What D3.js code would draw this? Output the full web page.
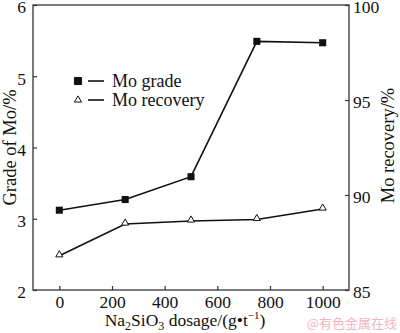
<!DOCTYPE html>
<html>
<head>
<meta charset="utf-8">
<script src="https://cdn.jsdelivr.net/npm/d3@7"></script>
<style>
  body { margin: 0; background: #fff; }
</style>
</head>
<body>
<div id="chart"></div>
<script>
// dosage of Na2SiO3 (g/t)
const dosage = [0, 250, 500, 750, 1000];
// Mo grade, %
const grade = [3.12, 3.27, 3.59, 5.49, 5.47];
// Mo recovery, %
const recovery = [86.8, 88.47, 88.63, 88.71, 89.26];

const xTicks = [0, 200, 400, 600, 800, 1000];
const gradeTicks = [2, 3, 4, 5, 6];
const recTicks = [85, 90, 95, 100];

const width = 400, height = 333;
const margin = { top: 5, right: 51, bottom: 43, left: 33 };
const serif = "Liberation Serif";

const svg = d3.select("#chart").append("svg")
  .attr("width", width)
  .attr("height", height);

const x = d3.scaleLinear().domain([-100, 1100]).range([margin.left, width - margin.right]);
const yL = d3.scaleLinear().domain([2, 6]).range([height - margin.bottom, margin.top]);
const yR = d3.scaleLinear().domain([85, 100]).range([height - margin.bottom, margin.top]);

// frame
svg.append("rect")
  .attr("x", margin.left).attr("y", margin.top)
  .attr("width", width - margin.left - margin.right)
  .attr("height", height - margin.top - margin.bottom)
  .attr("fill", "none").attr("stroke", "#444").attr("stroke-width", 1.4);

const styleAxis = g => {
  g.attr("font-family", serif).attr("font-size", 17.5);
  g.select(".domain").remove();
  g.selectAll(".tick line").attr("stroke", "#333").attr("stroke-width", 1.2);
  g.selectAll(".tick text").attr("fill", "#111");
};

svg.append("g")
  .attr("transform", `translate(0,${height - margin.bottom})`)
  .call(d3.axisBottom(x).tickValues(xTicks).tickFormat(d3.format("d")).tickSizeInner(-4).tickPadding(6))
  .call(styleAxis);

svg.append("g")
  .attr("transform", `translate(${margin.left},0)`)
  .call(d3.axisLeft(yL).tickValues(gradeTicks).tickFormat(d3.format("d")).tickSizeInner(-4).tickPadding(7))
  .call(styleAxis)
  .call(g => g.selectAll(".tick text").attr("dy", "0.45em"));

svg.append("g")
  .attr("transform", `translate(${width - margin.right},0)`)
  .call(d3.axisRight(yR).tickValues(recTicks).tickFormat(d3.format("d")).tickSizeInner(-4).tickPadding(4))
  .call(styleAxis)
  .call(g => g.selectAll(".tick text").attr("dy", "0.45em"));

// axis titles
const midY = (margin.top + height - margin.bottom) / 2;
svg.append("text")
  .attr("transform", `translate(16,${midY}) rotate(-90)`)
  .attr("text-anchor", "middle").attr("font-size", 18.5).attr("font-family", serif).attr("fill", "#111")
  .text("Grade of Mo/%");

svg.append("text")
  .attr("transform", `translate(394,${midY - 2}) rotate(-90)`)
  .attr("text-anchor", "middle").attr("font-size", 18.5).attr("font-family", serif).attr("fill", "#111")
  .text("Mo recovery/%");

const xl = svg.append("text")
  .attr("x", 185).attr("y", 326)
  .attr("text-anchor", "middle").attr("font-size", 17.5).attr("font-family", serif).attr("fill", "#111");
xl.append("tspan").text("Na");
xl.append("tspan").attr("font-size", 12).attr("dy", 4).text("2");
xl.append("tspan").attr("dy", -4).text("SiO");
xl.append("tspan").attr("font-size", 12).attr("dy", 4).text("3");
xl.append("tspan").attr("dy", -4).text(" dosage/(g\u2022t");
xl.append("tspan").attr("font-size", 11).attr("dy", -7).text("\u22121");
xl.append("tspan").attr("dy", 7).text(")");

// series lines
const gradeLine = d3.line().x((d, i) => x(dosage[i])).y(d => yL(d));
const recLine = d3.line().x((d, i) => x(dosage[i])).y(d => yR(d));

svg.append("path").datum(grade).attr("d", gradeLine)
  .attr("fill", "none").attr("stroke", "#111").attr("stroke-width", 1.6);
svg.append("path").datum(recovery).attr("d", recLine)
  .attr("fill", "none").attr("stroke", "#111").attr("stroke-width", 1.6);

const square = d3.symbol().type(d3.symbolSquare).size(50);
const triangle = d3.symbol().type(d3.symbolTriangle).size(22);

svg.selectAll(".sq").data(grade).join("path")
  .attr("class", "sq")
  .attr("transform", (d, i) => `translate(${x(dosage[i])},${yL(d)})`)
  .attr("d", square).attr("fill", "#111");

svg.selectAll(".tri").data(recovery).join("path")
  .attr("class", "tri")
  .attr("transform", (d, i) => `translate(${x(dosage[i])},${yR(d) - 1})`)
  .attr("d", triangle).attr("fill", "#fff").attr("stroke", "#111").attr("stroke-width", 1);

// legend
const legend = svg.append("g");
const items = [
  { label: "Mo grade", sym: square, fill: "#111", y: 81 },
  { label: "Mo recovery", sym: triangle, fill: "#fff", y: 100 }
];
items.forEach(it => {
  legend.append("path")
    .attr("transform", `translate(78,${it.y})`)
    .attr("d", it.sym).attr("fill", it.fill).attr("stroke", "#111").attr("stroke-width", 1);
  legend.append("line")
    .attr("x1", 88).attr("x2", 104).attr("y1", it.y).attr("y2", it.y)
    .attr("stroke", "#111").attr("stroke-width", 1.6);
  legend.append("text")
    .attr("x", 112).attr("y", it.y + 6).attr("font-size", 18).attr("font-family", serif).attr("fill", "#111")
    .text(it.label);
});

// watermark
svg.append("text")
  .attr("x", 397).attr("y", 328).attr("text-anchor", "end")
  .attr("font-family", "Noto Sans CJK SC")
  .attr("fill", "#f2b6bf").attr("font-size", 13)
  .text("@有色金属在线");
</script>
</body>
</html>
